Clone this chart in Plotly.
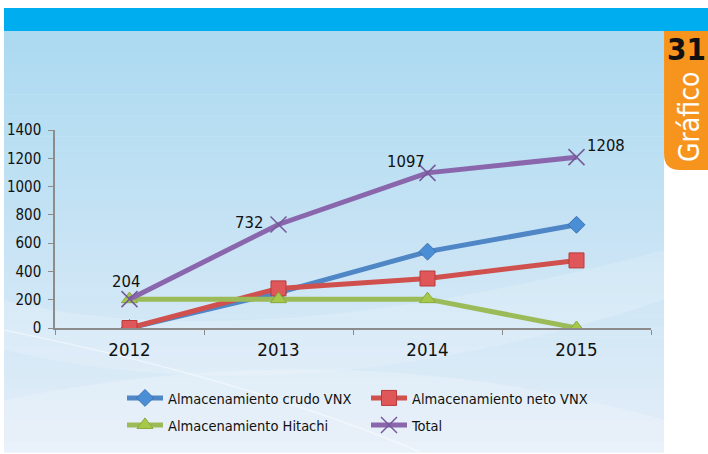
import plotly.graph_objects as go

years = ["2012", "2013", "2014", "2015"]
crudo_vnx = [0, 250, 540, 730]
neto_vnx = [0, 280, 350, 478]
hitachi = [204, 204, 204, 0]
total = [204, 732, 1097, 1208]
total_labels = ["204", "732", "1097", "1208"]
y_ticks = [0, 200, 400, 600, 800, 1000, 1200, 1400]

FONT = "Liberation Sans Narrow, Noto Sans Condensed, DejaVu Sans Condensed, Noto Sans"


def tfont(size, color="#111111", weight="normal"):
    return dict(family=FONT, size=size, color=color, weight=weight)


fig = go.Figure()

fig.add_trace(go.Scatter(
    x=years, y=crudo_vnx, name="Almacenamiento crudo VNX", mode="lines+markers",
    line=dict(color="#4f86c6", width=5), legend="legend",
    marker=dict(symbol="diamond", size=13, color="#4a8fd6", line=dict(color="#3a6fb0", width=1)),
))
fig.add_trace(go.Scatter(
    x=years, y=neto_vnx, name="Almacenamiento neto VNX", mode="lines+markers",
    line=dict(color="#d0504d", width=5), legend="legend",
    marker=dict(symbol="square", size=15, color="#e0575a", line=dict(color="#b83a3a", width=1)),
))
fig.add_trace(go.Scatter(
    x=years, y=hitachi, name="Almacenamiento Hitachi", mode="lines+markers",
    line=dict(color="#9bbb59", width=5), legend="legend2",
    marker=dict(symbol="triangle-up", size=14, color="#a6c94a", line=dict(color="#8aa83c", width=1)),
))
fig.add_trace(go.Scatter(
    x=years, y=total, name="Total", mode="lines+markers",
    line=dict(color="#8a67ad", width=5), legend="legend2",
    marker=dict(symbol="x-thin", size=16, color="#7a5a9a", line=dict(color="#75589a", width=1.5)),
))

# Value labels on the Total series (x given as category index)
label_pos = [("center", "bottom", -4, 6), ("right", "middle", -14, 2),
             ("right", "bottom", -1, 0), ("left", "bottom", 8, 0)]
for i, (v, txt, (xa, ya, dx, dy)) in enumerate(zip(total, total_labels, label_pos)):
    fig.add_annotation(x=i, y=v, xref="x", yref="y", text=txt, showarrow=False,
                       xanchor=xa, yanchor=ya, xshift=dx, yshift=dy, font=tfont(16.5))

# Background: header bar, gradient panel, side tab
shapes = []
shapes.append(dict(type="rect", xref="paper", yref="paper", x0=4/708, x1=1, y0=1-31/454, y1=1-8/454,
                   fillcolor="#00aeef", line=dict(width=0), layer="below"))
top_c = (172, 218, 241)
bot_c = (228, 238, 249)
n = 40
y_top, y_bot = 31, 452
for i in range(n):
    t = i / (n - 1)
    c = tuple(int(top_c[k] + (bot_c[k] - top_c[k]) * t) for k in range(3))
    ya = y_top + (y_bot - y_top) * i / n
    yb = y_top + (y_bot - y_top) * (i + 1) / n + 0.6
    shapes.append(dict(type="rect", xref="paper", yref="paper", x0=4/708, x1=664/708,
                       y0=1-yb/454, y1=1-ya/454, fillcolor="rgb(%d,%d,%d)" % c,
                       line=dict(width=0), layer="below"))


def px(x, y):
    return "%.4f,%.4f" % (x/708, 1-y/454)


# soft swooshes across the panel
shapes.append(dict(type="path", xref="paper", yref="paper",
                   path="M %s Q %s %s L %s Q %s %s Z" % (px(4, 300), px(250, 360), px(664, 250),
                                                      px(664, 300), px(300, 420), px(4, 350)),
                   fillcolor="rgba(255,255,255,0.16)", line=dict(width=0), layer="below"))
shapes.append(dict(type="path", xref="paper", yref="paper",
                   path="M %s Q %s %s L %s L %s Z" % (px(4, 400), px(350, 330), px(664, 420),
                                                      px(664, 452), px(4, 452)),
                   fillcolor="rgba(255,255,255,0.2)", line=dict(width=0), layer="below"))
shapes.append(dict(type="path", xref="paper", yref="paper",
                   path="M %s Q %s %s" % (px(4, 330), px(250, 380), px(420, 452)),
                   line=dict(color="rgba(255,255,255,0.45)", width=1.5), layer="below"))

# orange side tab
shapes.append(dict(type="path", xref="paper", yref="paper",
                   path="M %s L %s L %s L %s Q %s %s Z" % (px(664, 31), px(708, 31), px(708, 170),
                                                        px(680, 170), px(664, 170), px(664, 154)),
                   fillcolor="#f7941d", line=dict(width=0), layer="below"))

fig.add_annotation(xref="paper", yref="paper", x=665/708, y=1-29/454, xanchor="left", yanchor="top",
                   text="31", showarrow=False, font=tfont(31, "#111111", "bold"))
fig.add_annotation(xref="paper", yref="paper", x=689/708, y=1-117/454, xanchor="center", yanchor="middle",
                   text="Gráfico", textangle=-90, showarrow=False, font=tfont(28, "#ffffff"))

legend_common = dict(orientation="h", xanchor="left", yanchor="middle",
                     entrywidth=193, entrywidthmode="pixels", bgcolor="rgba(0,0,0,0)",
                     font=tfont(14.5), itemwidth=36)

fig.update_layout(
    width=708, height=454,
    margin=dict(l=0, r=0, t=0, b=0, autoexpand=False),
    paper_bgcolor="#ffffff", plot_bgcolor="rgba(0,0,0,0)",
    shapes=shapes,
    showlegend=True,
    legend=dict(x=122/708, y=1-398/454, **legend_common),
    legend2=dict(x=122/708, y=1-425/454, **legend_common),
)
fig.update_xaxes(
    domain=[55/708, 651/708], range=[-0.5, 3.5], type="category",
    showgrid=False, showline=True, linecolor="#8c8c8c", linewidth=1.5,
    ticks="outside", tickson="boundaries", ticklen=5, tickcolor="#8c8c8c",
    tickfont=tfont(18.5), zeroline=False, ticklabelstandoff=4,
)
fig.update_yaxes(
    domain=[1-328/454, 1-130/454], range=[0, 1400], tickvals=y_ticks,
    showgrid=False, showline=True, linecolor="#8c8c8c", linewidth=1.5,
    ticks="outside", ticklen=5, tickcolor="#8c8c8c",
    tickfont=tfont(15), zeroline=False, ticklabelstandoff=4,
)

fig.write_html("out.html")
